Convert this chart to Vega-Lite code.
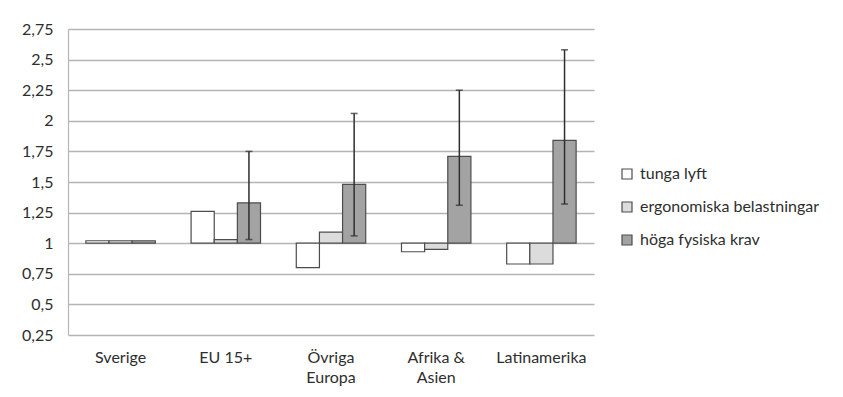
{
  "$schema": "https://vega.github.io/schema/vega-lite/v6.json",
  "autosize": {"type": "none"},
  "width": 526,
  "height": 306,
  "padding": {"left": 68, "top": 29, "right": 249, "bottom": 62},
  "background": "white",
  "config": {
    "view": {"stroke": null},
    "font": "Lato",
    "axis": {"labelFont": "Lato", "labelColor": "#2e2e2e"},
    "axisY": {
      "labelExpr": "replace(format(datum.value, '~g'), '.', ',')",
      "labelOverlap": false,
      "labelFontSize": 16,
      "labelPadding": 15,
      "ticks": false,
      "domainColor": "#b5b5b5",
      "domainWidth": 1.2,
      "gridColor": "#b5b5b5",
      "gridWidth": 1.5
    },
    "legend": {"labelFont": "Lato"}
  },
  "data": {
    "values": [
      {"region": "Sverige", "serie": "tunga lyft", "value": 1.02},
      {"region": "Sverige", "serie": "ergonomiska belastningar", "value": 1.02},
      {"region": "Sverige", "serie": "höga fysiska krav", "value": 1.02, "lo": 1.02, "hi": 1.02},
      {"region": "EU 15+", "serie": "tunga lyft", "value": 1.26},
      {"region": "EU 15+", "serie": "ergonomiska belastningar", "value": 1.03},
      {"region": "EU 15+", "serie": "höga fysiska krav", "value": 1.33, "lo": 1.03, "hi": 1.75},
      {"region": "Övriga Europa", "serie": "tunga lyft", "value": 0.8},
      {"region": "Övriga Europa", "serie": "ergonomiska belastningar", "value": 1.09},
      {"region": "Övriga Europa", "serie": "höga fysiska krav", "value": 1.48, "lo": 1.06, "hi": 2.06},
      {"region": "Afrika & Asien", "serie": "tunga lyft", "value": 0.93},
      {"region": "Afrika & Asien", "serie": "ergonomiska belastningar", "value": 0.95},
      {"region": "Afrika & Asien", "serie": "höga fysiska krav", "value": 1.71, "lo": 1.31, "hi": 2.25},
      {"region": "Latinamerika", "serie": "tunga lyft", "value": 0.83},
      {"region": "Latinamerika", "serie": "ergonomiska belastningar", "value": 0.83},
      {"region": "Latinamerika", "serie": "höga fysiska krav", "value": 1.84, "lo": 1.32, "hi": 2.58}
    ]
  },
  "encoding": {
    "x": {
      "field": "region",
      "type": "nominal",
      "sort": ["Sverige", "EU 15+", "Övriga Europa", "Afrika & Asien", "Latinamerika"],
      "scale": {"paddingInner": 0.34, "paddingOuter": 0.17},
      "axis": {
        "title": null,
        "labelAngle": 0,
        "domain": false,
        "ticks": false,
        "labelPadding": 14,
        "labelFontSize": 16,
        "labelLineHeight": 20,
        "labelExpr": "datum.value == 'Övriga Europa' ? ['Övriga', 'Europa'] : datum.value == 'Afrika & Asien' ? ['Afrika &', 'Asien'] : datum.value"
      }
    },
    "xOffset": {
      "field": "serie",
      "type": "nominal",
      "sort": ["tunga lyft", "ergonomiska belastningar", "höga fysiska krav"],
      "scale": {"domain": ["tunga lyft", "ergonomiska belastningar", "höga fysiska krav"], "paddingInner": 0, "paddingOuter": 0}
    }
  },
  "layer": [
    {
      "mark": {"type": "bar", "stroke": "#4d4d4d", "strokeWidth": 1.2},
      "encoding": {
        "y": {
          "field": "value",
          "type": "quantitative",
          "scale": {"domain": [0.25, 2.75], "nice": false, "zero": false},
          "axis": {"title": null, "values": [0.25, 0.5, 0.75, 1, 1.25, 1.5, 1.75, 2, 2.25, 2.5, 2.75]}
        },
        "y2": {"datum": 1},
        "fill": {
          "field": "serie",
          "type": "nominal",
          "sort": ["tunga lyft", "ergonomiska belastningar", "höga fysiska krav"],
          "scale": {
            "domain": ["tunga lyft", "ergonomiska belastningar", "höga fysiska krav"],
            "range": ["#ffffff", "#dcdcdc", "#a3a3a3"]
          },
          "legend": {
            "title": null,
            "orient": "none",
            "legendX": 551,
            "legendY": 137,
            "symbolType": "square",
            "symbolSize": 100,
            "symbolStrokeColor": "#4d4d4d",
            "symbolStrokeWidth": 1.2,
            "labelFontSize": 16,
            "labelColor": "#2e2e2e",
            "labelLimit": 400,
            "rowPadding": 17,
            "labelOffset": 5
          }
        }
      }
    },
    {
      "transform": [{"filter": "datum.serie == 'höga fysiska krav' && datum.hi > datum.lo"}],
      "mark": {"type": "rule", "color": "#2e2e2e", "strokeWidth": 1.5},
      "encoding": {
        "y": {"field": "lo", "type": "quantitative", "axis": {"title": null, "values": [0.25, 0.5, 0.75, 1, 1.25, 1.5, 1.75, 2, 2.25, 2.5, 2.75]}},
        "y2": {"field": "hi"}
      }
    },
    {
      "transform": [{"filter": "datum.serie == 'höga fysiska krav' && datum.hi > datum.lo"}],
      "mark": {"type": "tick", "color": "#2e2e2e", "thickness": 1.6, "size": 7, "orient": "horizontal"},
      "encoding": {"y": {"field": "lo", "type": "quantitative", "axis": {"title": null, "values": [0.25, 0.5, 0.75, 1, 1.25, 1.5, 1.75, 2, 2.25, 2.5, 2.75]}}}
    },
    {
      "transform": [{"filter": "datum.serie == 'höga fysiska krav' && datum.hi > datum.lo"}],
      "mark": {"type": "tick", "color": "#2e2e2e", "thickness": 1.6, "size": 7, "orient": "horizontal"},
      "encoding": {"y": {"field": "hi", "type": "quantitative", "axis": {"title": null, "values": [0.25, 0.5, 0.75, 1, 1.25, 1.5, 1.75, 2, 2.25, 2.5, 2.75]}}}
    }
  ]
}
